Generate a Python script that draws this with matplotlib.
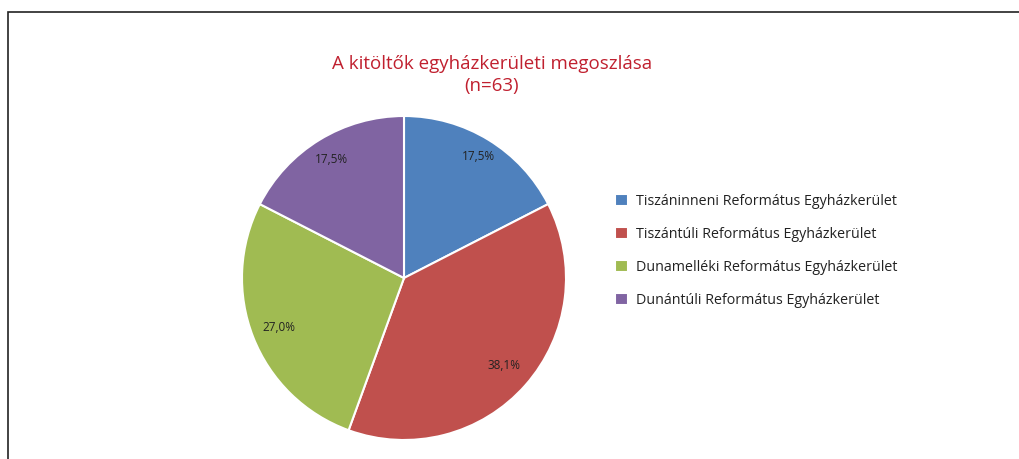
import numpy as np
import matplotlib.pyplot as plt
from matplotlib.patches import Rectangle

plt.rcParams['font.family'] = ['Open Sans', 'DejaVu Sans']

# adatok (n=63)
categories = ['Tiszáninneni Református Egyházkerület',
              'Tiszántúli Református Egyházkerület',
              'Dunamelléki Református Egyházkerület',
              'Dunántúli Református Egyházkerület']
counts = [11, 24, 17, 11]
colors = ['#4F81BD', '#C0504D', '#A0BB52', '#8064A2']
title = 'A kitöltők egyházkerületi megoszlása\n(n=63)'

# címkék távolsága a középponttól (sugár arányában)
label_dist = [0.88, 0.82, 0.83, 0.86]

W, H = 1020, 459
fig = plt.figure(figsize=(W / 100, H / 100), dpi=100)

# keret (a kép szélén túlnyúlik)
fig.patches.append(Rectangle((8 / W, -0.1), 1.2, 1 - 12 / H + 0.1,
                             transform=fig.transFigure, fill=False,
                             edgecolor='#222222', linewidth=1.2))

ax = fig.add_axes([(404 - 162) / W, (H - 440) / H, 324 / W, 324 / H])
wedges, texts, autotexts = ax.pie(
    counts, colors=colors, startangle=90, counterclock=False,
    radius=1, pctdistance=0.85,
    autopct=lambda p: f'{p:.1f}%'.replace('.', ','),
    wedgeprops=dict(edgecolor='white', linewidth=1.5))
for w, t, d in zip(wedges, autotexts, label_dist):
    ang = np.deg2rad((w.theta1 + w.theta2) / 2)
    t.set_position((d * np.cos(ang), d * np.sin(ang)))
    t.set_fontsize(8.5)
    t.set_color('#222222')
ax.set_xlim(-1, 1)
ax.set_ylim(-1, 1)
ax.set_aspect('equal')

fig.text(492 / W, 1 - 75 / H, title, ha='center', va='center',
         color='#C0202F', fontsize=13.5, linespacing=1.35)

leg = fig.legend(wedges, categories, loc='upper left',
                 bbox_to_anchor=(602 / W, 1 - 181 / H), frameon=False,
                 fontsize=10.3, handlelength=0.9, handleheight=0.9,
                 handletextpad=0.6, labelspacing=1.25)
for t in leg.get_texts():
    t.set_color('#222222')

fig.savefig('out.png', dpi=100)
